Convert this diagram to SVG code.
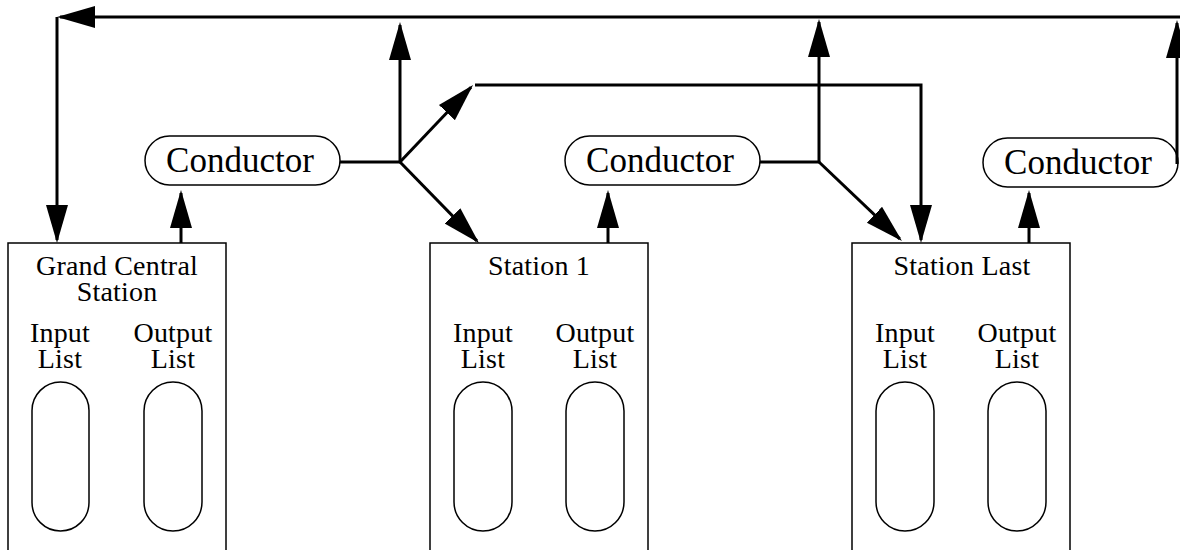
<svg xmlns="http://www.w3.org/2000/svg" width="1180" height="550" viewBox="0 0 1180 550">
<style>
.box{fill:#fff;stroke:#000;stroke-width:1.5}
.pill{fill:#fff;stroke:#000;stroke-width:1.5}
.con{fill:none;stroke:#000;stroke-width:3;marker-end:url(#ah)}
.ln{fill:none;stroke:#000;stroke-width:3}
.t{font-family:"Liberation Serif","Times New Roman",serif;fill:#000;text-anchor:middle}
.tc{font-size:35px}
.ts{font-size:28px;letter-spacing:0.2px}
</style>
<defs>
<marker id="ah" markerUnits="userSpaceOnUse" markerWidth="38" markerHeight="24" viewBox="0 0 38 24" refX="35" refY="12" orient="auto">
<path d="M0,1 L38,12 L0,23 z" fill="#000"/>
</marker>
</defs>
<rect width="1180" height="550" fill="#fff"/>

<g id="grand-central">
<rect class="box" x="8" y="243" width="218" height="330"/>
<text class="t ts" x="117" y="275">Grand Central<tspan x="117" dy="26">Station</tspan></text>
<text class="t ts" x="60" y="342">Input<tspan x="60" dy="26">List</tspan></text>
<text class="t ts" x="173" y="342">Output<tspan x="173" dy="26">List</tspan></text>
<rect class="pill" x="32" y="382" width="57" height="149" rx="28.5"/>
<rect class="pill" x="144" y="382" width="58" height="149" rx="29"/>
</g>

<g id="station-1">
<rect class="box" x="430" y="243" width="218" height="330"/>
<text class="t ts" x="539" y="275">Station 1</text>
<text class="t ts" x="483" y="342">Input<tspan x="483" dy="26">List</tspan></text>
<text class="t ts" x="595" y="342">Output<tspan x="595" dy="26">List</tspan></text>
<rect class="pill" x="454" y="382" width="58" height="149" rx="29"/>
<rect class="pill" x="566" y="382" width="58" height="149" rx="29"/>
</g>

<g id="station-last">
<rect class="box" x="852" y="243" width="218" height="330"/>
<text class="t ts" x="962" y="275">Station Last</text>
<text class="t ts" x="905" y="342">Input<tspan x="905" dy="26">List</tspan></text>
<text class="t ts" x="1017" y="342">Output<tspan x="1017" dy="26">List</tspan></text>
<rect class="pill" x="876" y="382" width="58" height="149" rx="29"/>
<rect class="pill" x="988" y="382" width="58" height="149" rx="29"/>
</g>

<g id="conductor-1">
<rect class="pill" x="145" y="136" width="195" height="49" rx="24.5"/>
<text class="t tc" x="240" y="172">Conductor</text>
</g>
<g id="conductor-2">
<rect class="pill" x="565" y="136" width="195" height="49" rx="24.5"/>
<text class="t tc" x="660" y="172">Conductor</text>
</g>
<g id="conductor-3">
<rect class="pill" x="983" y="138" width="195" height="49" rx="24.5"/>
<text class="t tc" x="1078" y="174">Conductor</text>
</g>

<g id="connectors">
<path class="con" d="M1180,17 L60,17"/>
<path class="con" d="M57,17 L57,240"/>
<path class="con" d="M181,243 L181,193"/>
<path class="ln" d="M340,162 L400,162"/>
<path class="con" d="M400,162 L400,25"/>
<path class="con" d="M400,162 L471,87.2"/>
<path class="con" d="M400,162 L476.9,240.9"/>
<path class="con" d="M475,85 L921,85 L921,240"/>
<path class="con" d="M608,243 L608,193"/>
<path class="ln" d="M760,162 L819,162"/>
<path class="con" d="M819,162 L819,22"/>
<path class="con" d="M819,162 L899.8,238.9"/>
<path class="con" d="M1029,243 L1029,193"/>
<path class="con" d="M1177,164 L1177,23"/>
</g>
</svg>
